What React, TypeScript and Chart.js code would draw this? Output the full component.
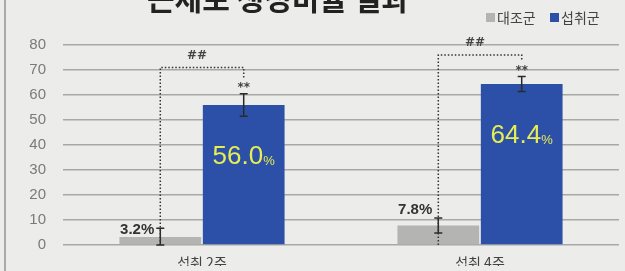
import React, { useEffect, useRef } from "react";
import { Chart, registerables } from "chart.js";

Chart.register(...registerables);

const titleText = "근세포 생성비율 결과";
const categories = ["섭취 2주", "섭취 4주"];
const seriesNames = ["대조군", "섭취군"];
const controlValues = [3.2, 7.8];
const treatedValues = [56.0, 64.4];
const controlErrors = [3.5, 3.0];
const treatedErrors = [4.5, 3.0];
const bracketLevels = [71, 76];
const treatedMarks = ["**", "**"];
const bracketMarks = ["##", "##"];
const controlLabels = ["3.2%", "7.8%"];
const treatedLabels = ["56.0", "64.4"];
const yMin = 0;
const yMax = 80;
const yStep = 10;

const BG = "#ececea";
const GRAY = "#b4b4b2";
const BLUE = "#2c4fa7";
const YELLOW = "#e6ee52";

export default function App() {
  const ref = useRef<HTMLCanvasElement | null>(null);

  useEffect(() => {
    const canvas = ref.current;
    if (!canvas) return;

    const overlay = {
      id: "overlay",
      beforeDraw(chart: any) {
        const { ctx, width, height } = chart;
        ctx.save();
        ctx.fillStyle = BG;
        ctx.fillRect(0, 0, width, height);
        ctx.strokeStyle = "#a9a9a7";
        ctx.lineWidth = 2;
        ctx.beginPath();
        ctx.moveTo(5, 0);
        ctx.lineTo(5, height);
        ctx.stroke();
        // title (cut at top)
        ctx.fillStyle = "#222";
        ctx.font = "bold 30px 'Noto Sans CJK KR', sans-serif";
        ctx.textAlign = "center";
        ctx.textBaseline = "alphabetic";
        ctx.fillText(titleText, 278, 10);
        // legend
        ctx.font = "14px 'Noto Sans CJK KR', sans-serif";
        ctx.textAlign = "left";
        ctx.textBaseline = "middle";
        ctx.fillStyle = GRAY;
        ctx.fillRect(486, 13, 9, 9);
        ctx.fillStyle = "#444";
        ctx.fillText(seriesNames[0], 497, 18);
        ctx.fillStyle = BLUE;
        ctx.fillRect(550, 13, 9, 9);
        ctx.fillStyle = "#444";
        ctx.fillText(seriesNames[1], 561, 18);
        ctx.restore();
      },
      afterDatasetsDraw(chart: any) {
        const { ctx } = chart;
        const y = chart.scales.y;
        const m0 = chart.getDatasetMeta(0);
        const m1 = chart.getDatasetMeta(1);
        ctx.save();
        for (let i = 0; i < categories.length; i++) {
          const gx = m0.data[i].x;
          const bx = m1.data[i].x;
          const drawErr = (x: number, v: number, e: number) => {
            const t = y.getPixelForValue(v + e);
            const b = y.getPixelForValue(Math.max(v - e, 0));
            ctx.strokeStyle = "#2a2a2a";
            ctx.lineWidth = 1.5;
            ctx.setLineDash([]);
            ctx.beginPath();
            ctx.moveTo(x, t);
            ctx.lineTo(x, b);
            ctx.moveTo(x - 4, t);
            ctx.lineTo(x + 4, t);
            ctx.moveTo(x - 4, b);
            ctx.lineTo(x + 4, b);
            ctx.stroke();
          };
          drawErr(gx, controlValues[i], controlErrors[i]);
          drawErr(bx, treatedValues[i], treatedErrors[i]);

          const bracketY = y.getPixelForValue(bracketLevels[i]);
          const gTop = y.getPixelForValue(controlValues[i] + controlErrors[i]);
          const bTop = y.getPixelForValue(treatedValues[i] + treatedErrors[i]);
          ctx.strokeStyle = "#333";
          ctx.lineWidth = 1.5;
          ctx.setLineDash([1.5, 2]);
          ctx.beginPath();
          ctx.moveTo(gx, y.getPixelForValue(0));
          ctx.lineTo(gx, bracketY);
          ctx.lineTo(bx, bracketY);
          ctx.lineTo(bx, bTop - 16);
          ctx.stroke();
          ctx.setLineDash([]);

          ctx.fillStyle = "#444";
          ctx.font = "bold 12px 'DejaVu Sans', sans-serif";
          ctx.textAlign = "center";
          ctx.textBaseline = "middle";
          ctx.fillText(treatedMarks[i], bx, bTop - 6);
          ctx.fillText(bracketMarks[i], (gx + bx) / 2 - 5, bracketY - 12);

          ctx.fillStyle = "#333";
          ctx.font = "bold 15px 'Liberation Sans Narrow', 'Liberation Sans', sans-serif";
          ctx.textAlign = "right";
          ctx.fillText(controlLabels[i], gx - 6, gTop - (i === 0 ? -2 : 8));

          const tTop = y.getPixelForValue(treatedValues[i]);
          const ly = tTop + 52;
          ctx.font = "26px 'Liberation Sans', sans-serif";
          const numW = ctx.measureText(treatedLabels[i]).width;
          ctx.font = "13px 'Liberation Sans', sans-serif";
          const pW = ctx.measureText("%").width;
          const startX = bx - (numW + pW) / 2;
          ctx.textAlign = "left";
          ctx.fillStyle = YELLOW;
          ctx.font = "26px 'Liberation Sans', sans-serif";
          ctx.fillText(treatedLabels[i], startX, ly);
          ctx.font = "13px 'Liberation Sans', sans-serif";
          ctx.fillText("%", startX + numW, ly + 4);
        }
        ctx.restore();
      },
    };

    const chart = new Chart(canvas, {
      type: "bar",
      data: {
        labels: categories,
        datasets: [
          {
            label: seriesNames[0],
            data: controlValues,
            backgroundColor: GRAY,
            barPercentage: 0.98,
            categoryPercentage: 0.6,
          },
          {
            label: seriesNames[1],
            data: treatedValues,
            backgroundColor: BLUE,
            barPercentage: 0.98,
            categoryPercentage: 0.6,
          },
        ],
      },
      options: {
        responsive: false,
        animation: false,
        devicePixelRatio: 1,
        layout: { padding: { left: 0, right: 6, top: 45, bottom: 0 } },
        plugins: {
          legend: { display: false },
          title: { display: false },
          tooltip: { enabled: false },
        },
        scales: {
          x: {
            grid: { display: false, drawTicks: false },
            border: { display: false },
            ticks: {
              color: "#444",
              padding: 9,
              font: { size: 14, family: "'Noto Sans CJK KR', sans-serif" },
            },
            afterFit: (s: any) => {
              s.height = 21;
            },
          },
          y: {
            min: yMin,
            max: yMax,
            grid: { color: "#a8a8a6", lineWidth: 1.5, drawTicks: false },
            border: { display: false },
            ticks: {
              stepSize: yStep,
              color: "#7a7a7a",
              padding: 17,
              font: { size: 15, family: "'Liberation Sans Narrow', 'Liberation Sans', sans-serif" },
            },
            afterFit: (s: any) => {
              s.width = 63;
            },
          },
        },
      },
      plugins: [overlay],
    });
    return () => chart.destroy();
  }, []);

  return (
    <div style={{ position: "fixed", left: 0, top: 0, width: 625, height: 271 }}>
      <canvas ref={ref} width={625} height={271} style={{ width: 625, height: 271, display: "block" }} />
    </div>
  );
}
